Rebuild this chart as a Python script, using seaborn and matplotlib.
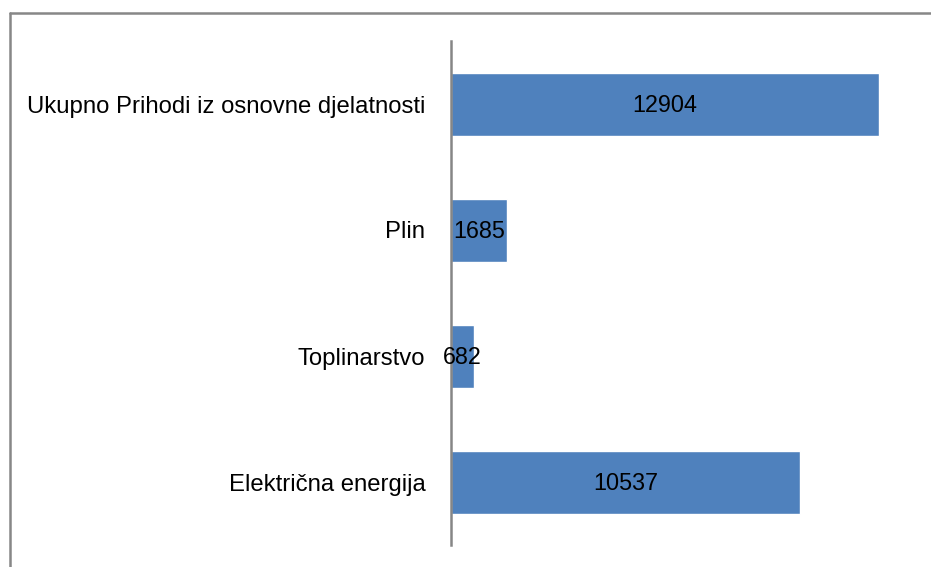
import matplotlib
matplotlib.use("Agg")
import matplotlib.pyplot as plt
import pandas as pd
import seaborn as sns
from matplotlib.lines import Line2D

categories = ["Ukupno Prihodi iz osnovne djelatnosti", "Plin", "Toplinarstvo", "Električna energija"]
values = [12904, 1685, 682, 10537]

sns.set_theme(style="white")
plt.rcParams["font.family"] = ["Liberation Sans", "DejaVu Sans"]

df = pd.DataFrame({"category": categories, "value": values})

fig = plt.figure(figsize=(9.31, 5.67), dpi=100)
ax = fig.add_axes([451 / 931, 1 - 545 / 567, (915 - 451) / 931, (545 - 41) / 567])

sns.barplot(data=df, y="category", x="value", order=categories, color="#4F81BD",
            saturation=1, width=0.5, ax=ax, errorbar=None)

for bar, v in zip(ax.patches, values):
    ax.text(bar.get_x() + bar.get_width() / 2, bar.get_y() + bar.get_height() / 2 + 0.01, f"{v}",
            ha="center", va="center", fontsize=16.8, color="black")

ax.set_xlim(0, 14000)
ax.set_ylim(3.5, -0.5)
ax.set_xlabel("")
ax.set_ylabel("")
ax.set_xticks([])
ax.tick_params(axis="y", length=0, pad=18.5, labelsize=17.2, labelcolor="black")
for s in ["top", "right", "bottom"]:
    ax.spines[s].set_visible(False)
ax.spines["left"].set_color("#868686")
ax.spines["left"].set_linewidth(1.8)

# outer chart frame (left and top edges visible)
fig.add_artist(Line2D([9.5 / 931, 9.5 / 931], [0, 1 - 12.5 / 567], transform=fig.transFigure,
                      color="#878787", lw=1.8))
fig.add_artist(Line2D([9.5 / 931, 1], [1 - 12.5 / 567, 1 - 12.5 / 567], transform=fig.transFigure,
                      color="#878787", lw=1.8))

fig.savefig("out.png", dpi=100)
